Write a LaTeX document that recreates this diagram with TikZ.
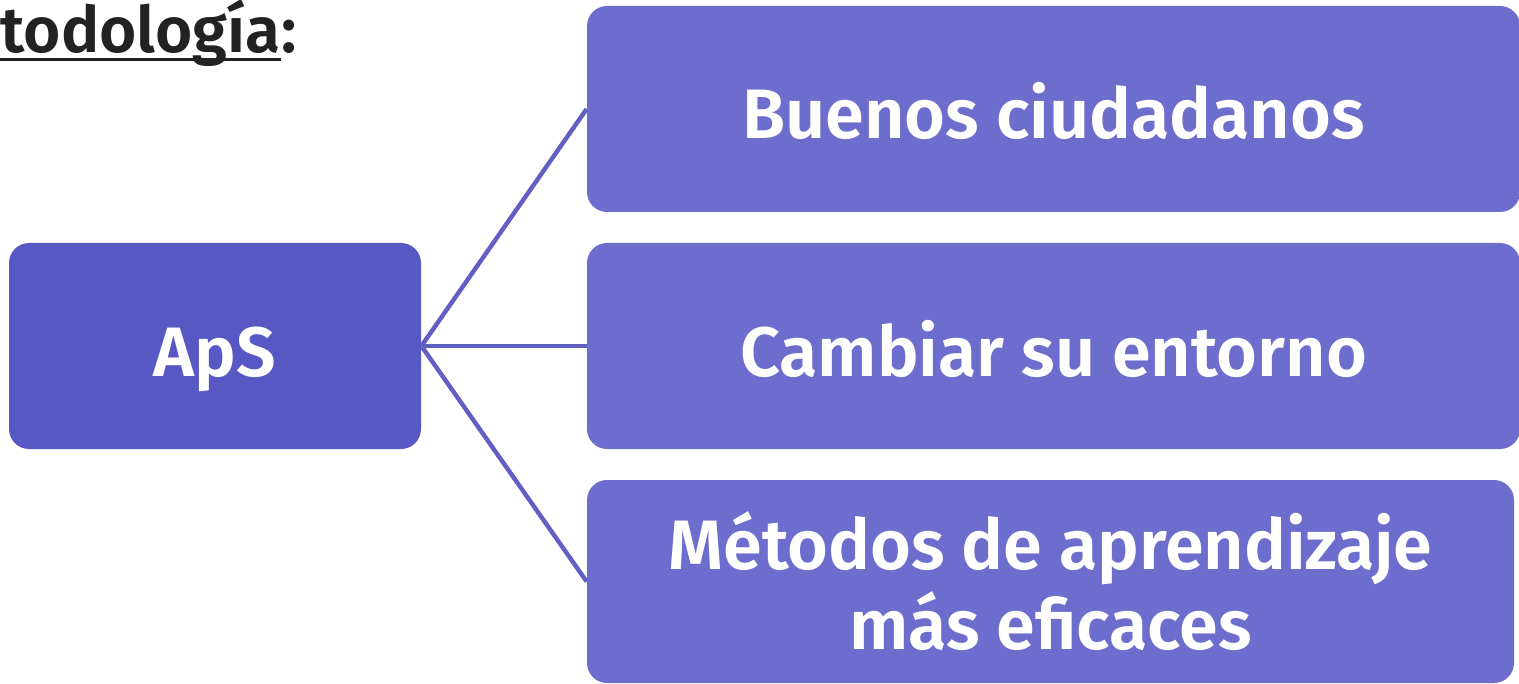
\documentclass[tikz,border=0pt]{standalone}
\usepackage{fontspec}
\setmainfont{Fira Sans}[BoldFont={Fira Sans SemiBold}]
\definecolor{apsfill}{HTML}{5858C5}
\definecolor{boxfill}{HTML}{6D6DCE}
\definecolor{linkcol}{HTML}{5F5FC4}
\definecolor{titlecol}{HTML}{222222}
\tikzset{
  px/.style={x=0.5pt,y=-0.5pt},
  mainbox/.style={draw=none, fill=boxfill, rounded corners=10pt, text=white, align=center,
    font=\fontsize{35}{40}\selectfont\bfseries, inner sep=0pt},
  oneline/.style={text height=40pt, text depth=10pt},
  apsbox/.style={mainbox, oneline, fill=apsfill},
  link/.style={draw=linkcol, line width=2.2pt},
  titletext/.style={text=titlecol, font=\fontsize{32}{36}\selectfont\bfseries, inner sep=0pt}
}
\begin{document}
\begin{tikzpicture}[px]
\useasboundingbox (0,0) rectangle (1519,684);
\node[apsbox, minimum width=206pt, minimum height=103pt] (aps) at (215,346) {ApS};
\node[mainbox, oneline, minimum width=466.5pt, minimum height=103pt] (b1) at (1053.5,109) {Buenos ciudadanos};
\node[mainbox, oneline, minimum width=466.5pt, minimum height=103pt] (b2) at (1053.5,346) {Cambiar su entorno};
\node[mainbox, minimum width=463.5pt, minimum height=101.5pt] (b3) at (1050.5,581.5) {Métodos de aprendizaje\\más eficaces};
\draw[link] (aps.east) -- (b1.west);
\draw[link] (aps.east) -- (b2.west);
\draw[link] (aps.east) -- (b3.west);
\node[titletext, anchor=base west] (t1) at (0,53) {todología};
\node[titletext, anchor=base west] (t2) at (t1.base east) {:};
\draw[titlecol, line width=1.5pt] ([yshift=-3.5pt]t1.base west) -- ([yshift=-3.5pt]t1.base east);
\end{tikzpicture}
\end{document}
